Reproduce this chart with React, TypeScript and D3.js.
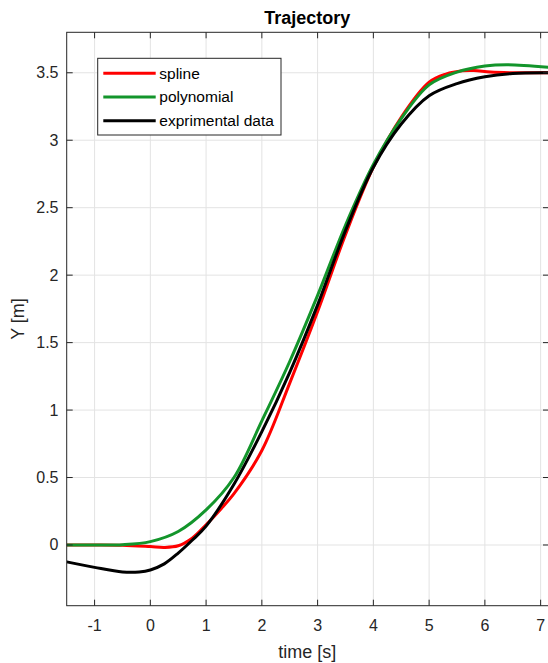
import React from 'react';
import * as d3 from 'd3';

// spline (red)
const splineT = [-1.5, -1.0, -0.5, 0, 0.25, 0.5, 0.75, 1.0, 1.25, 1.5, 2.0, 2.5, 3.0, 3.5, 4.0, 4.5, 5.0, 5.3, 5.6, 5.8, 6.1, 6.5, 7.15];
const splineY = [0, 0, -0.002, -0.012, -0.018, -0.006, 0.05, 0.15, 0.26, 0.38, 0.7, 1.2, 1.73, 2.3, 2.8, 3.17, 3.43, 3.49, 3.515, 3.517, 3.505, 3.5, 3.5];

// polynomial (green)
const polyT = [-1.5, -1.0, -0.5, 0, 0.5, 1.0, 1.5, 2.0, 2.5, 3.0, 3.5, 4.0, 4.5, 5.0, 5.5, 6.0, 6.4, 7.15];
const polyY = [0, 0, 0.002, 0.025, 0.1, 0.26, 0.5, 0.92, 1.36, 1.85, 2.37, 2.82, 3.16, 3.41, 3.505, 3.55, 3.56, 3.54];

// experimental data (black)
const expT = [-1.5, -1.0, -0.5, -0.2, 0, 0.25, 0.5, 0.75, 1.0, 1.5, 2.0, 2.5, 3.0, 3.5, 4.0, 4.5, 5.0, 5.5, 6.0, 6.5, 7.15];
const expY = [-0.125, -0.166, -0.2, -0.2, -0.185, -0.14, -0.06, 0.035, 0.14, 0.45, 0.84, 1.28, 1.78, 2.33, 2.8, 3.12, 3.33, 3.42, 3.47, 3.495, 3.5];

const xTicks = [-1, 0, 1, 2, 3, 4, 5, 6, 7];
const yTicks = [0, 0.5, 1, 1.5, 2, 2.5, 3, 3.5];

const series = [
  { name: 'spline', t: splineT, y: splineY, color: '#ff0000' },
  { name: 'polynomial', t: polyT, y: polyY, color: '#13952b' },
  { name: 'exprimental data', t: expT, y: expY, color: '#000000' },
];

const W = 548;
const H = 663;
const left = 66.7;
const right = 549;
const top = 32.3;
const bottom = 605.7;
const font = 'Liberation Sans, Arial, sans-serif';
const axisColor = '#262626';

export default function App() {
  const x = d3.scaleLinear().domain([-1.5, 7.15]).range([left, right]);
  const y = d3.scaleLinear().domain([-0.45, 3.8]).range([bottom, top]);

  const line = d3
    .line<[number, number]>()
    .x(d => x(d[0]))
    .y(d => y(d[1]))
    .curve(d3.curveCatmullRom.alpha(0.5));

  return (
    <svg width={W} height={H} style={{ position: 'fixed', left: 0, top: 0, background: '#fff' }}>
      <defs>
        <clipPath id="plot">
          <rect x={left} y={top} width={right - left} height={bottom - top} />
        </clipPath>
      </defs>
      <rect x={0} y={0} width={W} height={H} fill="#fff" />

      {/* grid */}
      <g stroke="#e3e3e3" strokeWidth={1}>
        {xTicks.map(t => (
          <line key={'gx' + t} x1={x(t)} x2={x(t)} y1={top} y2={bottom} />
        ))}
        {yTicks.map(t => (
          <line key={'gy' + t} x1={left} x2={right} y1={y(t)} y2={y(t)} />
        ))}
      </g>

      {/* curves */}
      <g clipPath="url(#plot)" fill="none" strokeWidth={3} strokeLinejoin="round">
        {series.map(s => (
          <path
            key={s.name}
            d={line(s.t.map((t, i) => [t, s.y[i]] as [number, number])) || ''}
            stroke={s.color}
          />
        ))}
      </g>

      {/* box and ticks */}
      <g stroke={axisColor} strokeWidth={1} fill="none">
        <rect x={left} y={top} width={right - left} height={bottom - top} />
        {xTicks.map(t => (
          <g key={'tx' + t}>
            <line x1={x(t)} x2={x(t)} y1={bottom} y2={bottom - 6} />
            <line x1={x(t)} x2={x(t)} y1={top} y2={top + 6} />
          </g>
        ))}
        {yTicks.map(t => (
          <g key={'ty' + t}>
            <line x1={left} x2={left + 6} y1={y(t)} y2={y(t)} />
            <line x1={right} x2={right - 6} y1={y(t)} y2={y(t)} />
          </g>
        ))}
      </g>

      {/* tick labels */}
      <g fontFamily={font} fontSize={16} fill={axisColor}>
        {xTicks.map(t => (
          <text key={'lx' + t} x={x(t)} y={631} textAnchor="middle">
            {t}
          </text>
        ))}
        {yTicks.map(t => (
          <text key={'ly' + t} x={58.5} y={y(t) + 5.5} textAnchor="end">
            {t}
          </text>
        ))}
      </g>

      {/* labels */}
      <text x={(left + 548) / 2} y={658} textAnchor="middle" fontFamily={font} fontSize={18} fill={axisColor}>
        time [s]
      </text>
      <text
        transform={`translate(24, ${(top + bottom) / 2}) rotate(-90)`}
        textAnchor="middle"
        fontFamily={font}
        fontSize={18}
        fill={axisColor}
      >
        Y [m]
      </text>
      <text x={(left + 548) / 2} y={24} textAnchor="middle" fontFamily={font} fontSize={18} fontWeight="bold" fill="#000">
        Trajectory
      </text>

      {/* legend */}
      <g>
        <rect x={97.7} y={58.3} width={183.3} height={76.7} fill="#fff" stroke={axisColor} strokeWidth={1} />
        {series.map((s, i) => {
          const ry = 73.3 + i * 23.7;
          return (
            <g key={'lg' + s.name}>
              <line x1={103.3} x2={155.7} y1={ry} y2={ry} stroke={s.color} strokeWidth={3} />
              <text x={159.3} y={ry + 5.3} fontFamily={font} fontSize={15.5} fill="#000">
                {s.name}
              </text>
            </g>
          );
        })}
      </g>
    </svg>
  );
}
